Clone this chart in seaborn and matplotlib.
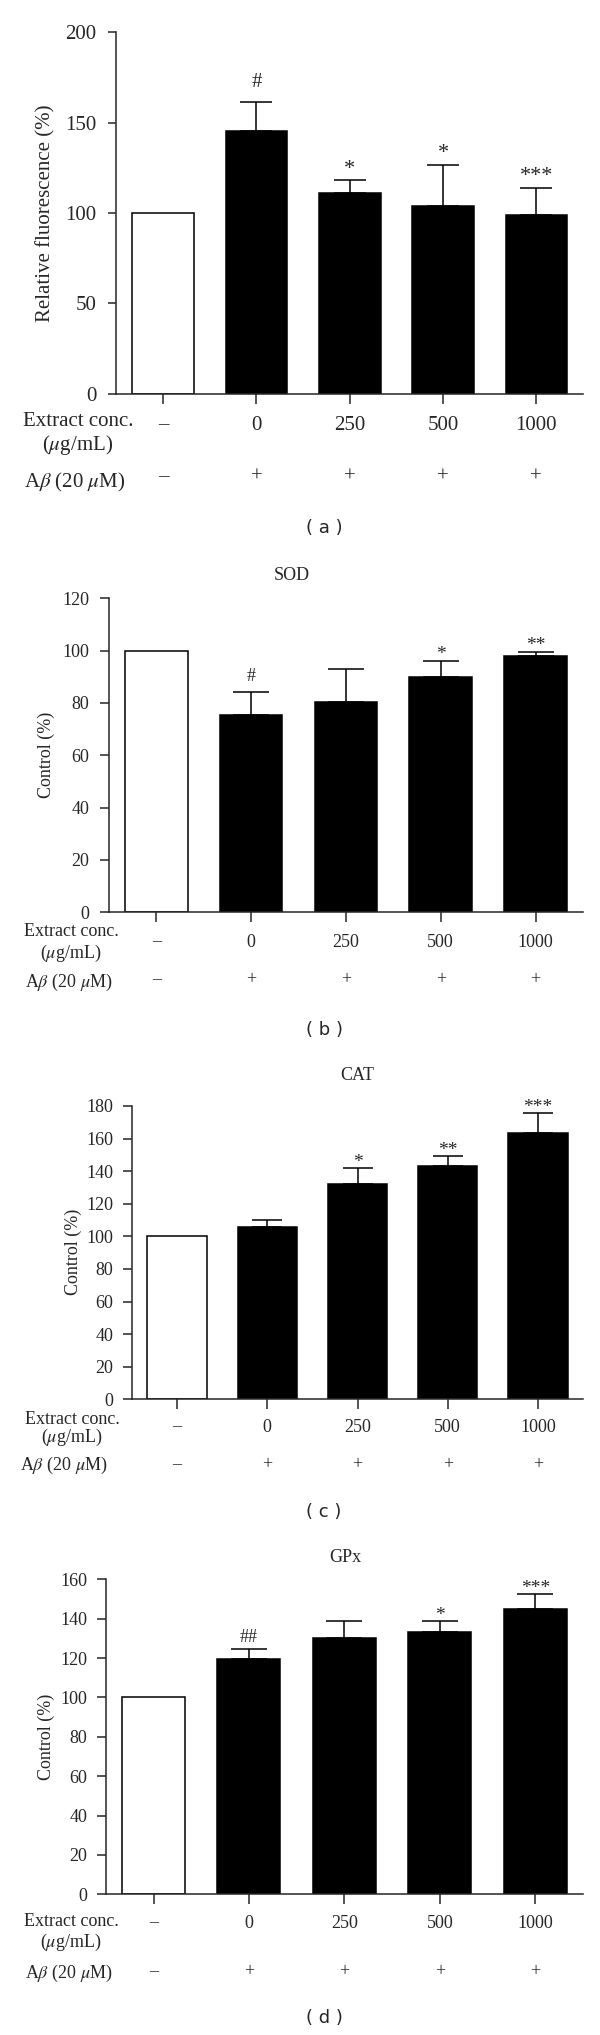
import numpy as np
import pandas as pd
import seaborn as sns
import matplotlib.pyplot as plt
from matplotlib import transforms

# --- data ---
conc_labels = ["–", "0", "250", "500", "1000"]
abeta_labels = ["–", "+", "+", "+", "+"]

ros_mean = [100, 145.4, 111.3, 103.9, 99.1]
ros_sem = [0, 16.2, 7.0, 22.9, 14.9]
ros_marks = ["", "#", "*", "*", "***"]

sod_mean = [100, 75.3, 80.4, 89.8, 98.1]
sod_sem = [0, 9.0, 12.5, 6.4, 1.5]
sod_marks = ["", "#", "", "*", "**"]

cat_mean = [100, 106.0, 132.3, 143.4, 163.4]
cat_sem = [0, 4.3, 9.7, 5.7, 12.5]
cat_marks = ["", "", "*", "**", "***"]

gpx_mean = [100, 119.5, 130.2, 133.4, 144.9]
gpx_sem = [0, 4.9, 8.8, 5.4, 7.7]
gpx_marks = ["", "##", "", "*", "***"]

sns.set_style("ticks")
plt.rcParams['font.family'] = ['Liberation Serif', 'DejaVu Serif']
plt.rcParams['mathtext.fontset'] = 'stix'

W, H = 600, 2035
fig = plt.figure(figsize=(W / 100, H / 100), dpi=100)


def fy(y):
    return 1 - y / H


def ftext(x, y, s, **kw):
    fig.text(x / W, fy(y), s, ha='center', va='center', **kw)


# layout of each panel in pixels
panels = [
    dict(mean=ros_mean, sem=ros_sem, marks=ros_marks, ymax=200, step=50,
         left=116.5, top=32.3, bottom=393.7, fs=15, ylabel="Relative fluorescence (%)",
         ylab_xy=(46, 213), title=None, cap=11.4, ytl=5.5, pad=9,
         mark_off=4.5, hash_off=10.4, mark_fs=16,
         rows=(422, 445, 482), row_x=(78, 78, 75), val_y=425, plus_y=477, caption=("( a )", 528)),
    dict(mean=sod_mean, sem=sod_sem, marks=sod_marks, ymax=120, step=20,
         left=108.8, top=598.3, bottom=912.3, fs=13, ylabel="Control (%)",
         ylab_xy=(46, 755), title=("SOD", 292, 575), cap=13.3, ytl=6.5, pad=7.7,
         mark_off=1.2, hash_off=8, mark_fs=14,
         rows=(932, 953, 982), row_x=(71, 71, 69), val_y=942, plus_y=980, caption=("( b )", 1030)),
    dict(mean=cat_mean, sem=cat_sem, marks=cat_marks, ymax=180, step=20,
         left=132, top=1106, bottom=1399.3, fs=13, ylabel="Control (%)",
         ylab_xy=(73, 1252), title=("CAT", 357, 1076), cap=10.8, ytl=6.3, pad=7,
         mark_off=0.8, hash_off=8, mark_fs=14,
         rows=(1420, 1437, 1465), row_x=(72, 72, 64), val_y=1427, plus_y=1465, caption=("( c )", 1512)),
    dict(mean=gpx_mean, sem=gpx_sem, marks=gpx_marks, ymax=160, step=20,
         left=105.8, top=1579.3, bottom=1894.3, fs=13, ylabel="Control (%)",
         ylab_xy=(46, 1737), title=("GPx", 345, 1557), cap=12.7, ytl=6.3, pad=6.9,
         mark_off=0.8, hash_off=5.5, mark_fs=14,
         rows=(1922, 1942, 1973), row_x=(71, 71, 69), val_y=1923, plus_y=1972, caption=("( d )", 2018)),
]

right = 583
colors = ["white", "black", "black", "black", "black"]

for p in panels:
    ax = fig.add_axes([p['left'] / W, fy(p['bottom']), (right - p['left']) / W,
                       (p['bottom'] - p['top']) / H])
    df = pd.DataFrame({'group': conc_labels, 'value': p['mean']})
    sns.barplot(data=df, x='group', y='value', hue='group', palette=colors,
                legend=False, edgecolor='black', linewidth=1.1, width=0.66,
                order=conc_labels, ax=ax)
    mean = np.array(p['mean'][1:])
    sem = np.array(p['sem'][1:])
    xs = np.arange(1, 5)
    ax.errorbar(xs, mean, yerr=[np.zeros_like(sem), sem], fmt='none', ecolor='black',
                elinewidth=1.1, capsize=p['cap'], capthick=1.1, zorder=0.5)
    for i, m in enumerate(p['marks']):
        if not m:
            continue
        top = p['mean'][i] + p['sem'][i]
        off = p['hash_off'] if '#' in m else p['mark_off']
        ax.annotate(m, xy=(i, top), xytext=(0, off), textcoords='offset points',
                    ha='center', va='baseline', fontsize=p['mark_fs'] if '*' in m else p['fs'])

    ax.set_xlim(-0.5, 4.5)
    ax.set_ylim(0, p['ymax'])
    ax.set_yticks(np.arange(0, p['ymax'] + 1, p['step']))
    ax.set_xlabel('')
    ax.set_ylabel('')
    ax.set_xticklabels([])
    ax.tick_params(axis='y', length=p['ytl'], width=1.1, pad=p['pad'], labelsize=p['fs'])
    ax.tick_params(axis='x', length=7, width=1.1)
    for s in ['top', 'right']:
        ax.spines[s].set_visible(False)
    for s in ['left', 'bottom']:
        ax.spines[s].set_linewidth(1.1)

    # ylabel / title / caption
    ftext(p['ylab_xy'][0], p['ylab_xy'][1], p['ylabel'], rotation=90, fontsize=p['fs'])
    if p['title']:
        ftext(p['title'][1], p['title'][2], p['title'][0], fontsize=p['fs'])
    ftext(324, p['caption'][1], p['caption'][0], fontsize=13, family='DejaVu Sans')

    # rows under the axis
    r1, r2, r3 = p['rows']
    rx1, rx2, rx3 = p['row_x']
    ftext(rx1, r1, "Extract conc.", fontsize=p['fs'])
    ftext(rx2, r2, "($\\mu$g/mL)", fontsize=p['fs'])
    ftext(rx3, r3, "A$\\beta$ (20 $\\mu$M)", fontsize=p['fs'])
    tr = transforms.blended_transform_factory(ax.transData, fig.transFigure)
    for i in range(5):
        ax.text(i, fy(p['val_y']), conc_labels[i], transform=tr, ha='center', va='center',
                fontsize=p['fs'])
        ax.text(i, fy(p['plus_y']), abeta_labels[i], transform=tr, ha='center', va='center',
                fontsize=p['fs'])

plt.savefig('out.png', dpi=100)
